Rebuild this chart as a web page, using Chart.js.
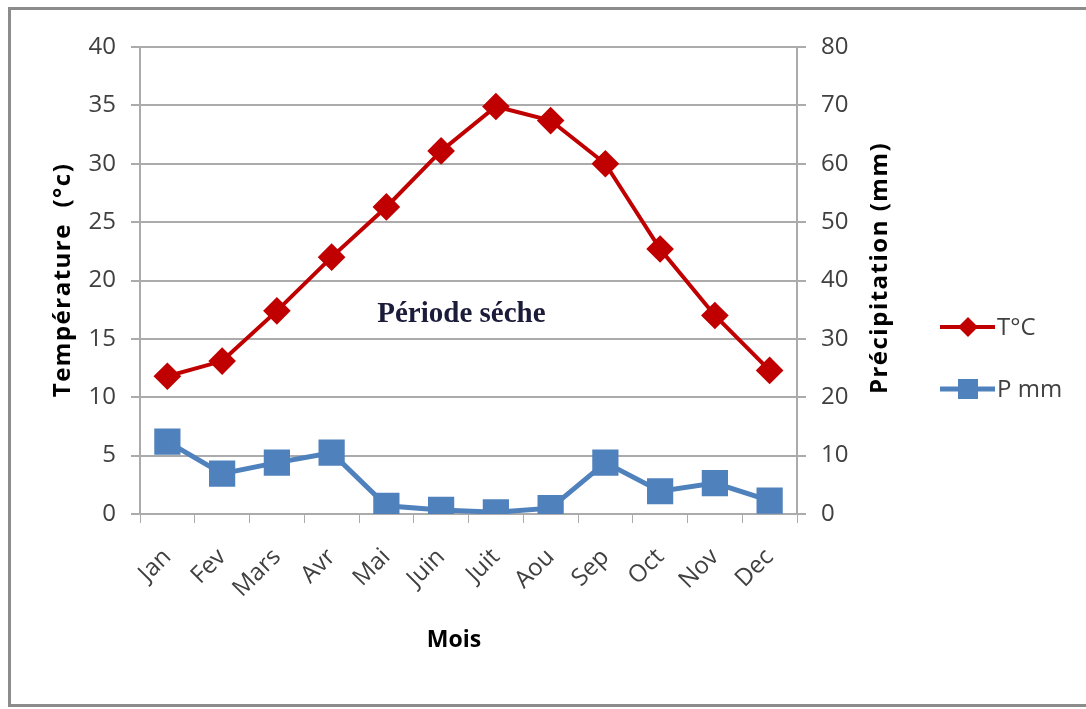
<!DOCTYPE html>
<html>
<head>
<meta charset="utf-8">
<script src="https://cdn.jsdelivr.net/npm/chart.js@4.4.1/dist/chart.umd.min.js"></script>
<style>
  html, body { margin: 0; padding: 0; background: #fff; }
  #wrap { width: 1086px; height: 709px; position: relative; }
</style>
</head>
<body>
<div id="wrap"><canvas id="myChart" width="1086" height="709"></canvas></div>
<script>
// data
const months = ['Jan', 'Fev', 'Mars', 'Avr', 'Mai', 'Juin', 'Juit', 'Aou', 'Sep', 'Oct', 'Nov', 'Dec']
const temperature = [11.8, 13.1, 17.4, 22.0, 26.3, 31.1, 34.9, 33.7, 30.0, 22.7, 17.0, 12.3]
const precipitation = [12.4, 6.9, 8.8, 10.5, 1.4, 0.7, 0.3, 1.0, 8.8, 3.9, 5.3, 2.3]
const seriesNames = ['T°C', 'P mm']
const tempTicks = { min: 0, max: 40, step: 5 }
const rainTicks = { min: 0, max: 80, step: 10 }

const RED = '#C00000'
const BLUE = '#4F81BD'
const GRID = '#ABABAB'
const TICK_TXT = '#404040'
const FONT = '"Open Sans", "DejaVu Sans", sans-serif'

// plot box in the picture
const box = { left: 140, right: 797, top: 47, bottom: 514 }

const extras = {
    id: 'extras',
    afterDraw(chart) {
        const ctx = chart.ctx
        const x = chart.scales.x
        const y = chart.scales.y
        ctx.save()

        // frame round the picture
        ctx.strokeStyle = '#8c8c8c'
        ctx.lineWidth = 3
        ctx.beginPath()
        ctx.moveTo(1090, 8.5)
        ctx.lineTo(9.5, 8.5)
        ctx.lineTo(9.5, 705.5)
        ctx.lineTo(1090, 705.5)
        ctx.stroke()

        // axis titles
        ctx.fillStyle = '#000'
        ctx.textAlign = 'center'
        ctx.textBaseline = 'middle'
        ctx.font = 'bold 24px ' + FONT
        ctx.letterSpacing = '1.5px'
        ctx.save()
        ctx.translate(63, 280)
        ctx.rotate(-Math.PI / 2)
        ctx.fillText('Température  (°c)', 0, 0)
        ctx.restore()
        ctx.save()
        ctx.translate(880, 268)
        ctx.rotate(-Math.PI / 2)
        ctx.fillText('Précipitation (mm)', 0, 0)
        ctx.restore()
        ctx.letterSpacing = '0px'
        ctx.font = 'bold 23px ' + FONT
        ctx.fillText('Mois', 454, 640)

        // annotation, placed through the scales
        ctx.font = 'bold 29px "Liberation Serif", "Times New Roman", serif'
        ctx.fillStyle = '#1b1b3a'
        const ax = x.getPixelForValue(5) * 0.63 + x.getPixelForValue(6) * 0.37
        ctx.fillText('Période séche', ax, y.getPixelForValue(17.1))

        // legend (line + marker like the office chart)
        const items = chart.data.datasets
        items.forEach((ds, i) => {
            const ly = 327 + i * 62
            ctx.strokeStyle = ds.borderColor
            ctx.lineWidth = ds.borderWidth
            ctx.beginPath()
            ctx.moveTo(940, ly)
            ctx.lineTo(995, ly)
            ctx.stroke()
            ctx.fillStyle = ds.backgroundColor
            ctx.beginPath()
            if (ds.pointStyle === 'rectRot') {
                const r = 10
                ctx.moveTo(968, ly - r); ctx.lineTo(968 + r, ly); ctx.lineTo(968, ly + r); ctx.lineTo(968 - r, ly)
                ctx.closePath()
            } else {
                ctx.rect(968 - 10, ly - 10, 20, 20)
            }
            ctx.fill()
            ctx.fillStyle = TICK_TXT
            ctx.font = '24px ' + FONT
            ctx.textAlign = 'left'
            ctx.fillText(ds.label, 997, ly + 1)
        })
        ctx.restore()
    }
}

const ctx = document.getElementById('myChart').getContext('2d')
const chart = new Chart(ctx, {
    type: 'line',
    data: {
        labels: months,
        datasets: [
            {
                label: seriesNames[0],
                data: temperature,
                yAxisID: 'y',
                borderColor: RED,
                backgroundColor: RED,
                borderWidth: 4,
                pointStyle: 'rectRot',
                pointRadius: 11,
                pointHoverRadius: 11,
                tension: 0
            },
            {
                label: seriesNames[1],
                data: precipitation,
                yAxisID: 'y1',
                borderColor: BLUE,
                backgroundColor: BLUE,
                borderWidth: 5,
                pointStyle: 'rect',
                pointRadius: 15,
                pointHoverRadius: 15,
                tension: 0
            }
        ]
    },
    options: {
        responsive: false,
        animation: false,
        layout: { padding: { top: box.top, left: 0, right: 0, bottom: 0 } },
        plugins: {
            legend: { display: false },
            tooltip: { enabled: false }
        },
        scales: {
            x: {
                offset: true,
                grid: { display: true, offset: true, drawOnChartArea: false, color: GRID, tickLength: 9, lineWidth: 1 },
                border: { color: GRID, width: 2 },
                ticks: { color: TICK_TXT, font: { family: FONT, size: 24 }, minRotation: 45, maxRotation: 45, padding: 20 },
                afterFit: s => { s.height = 709 - box.bottom }
            },
            y: {
                position: 'left',
                min: tempTicks.min,
                max: tempTicks.max,
                ticks: { stepSize: tempTicks.step, color: TICK_TXT, font: { family: FONT, size: 24 }, padding: 15 },
                grid: { color: GRID, lineWidth: 2, tickLength: 9 },
                border: { color: GRID, width: 2 },
                afterFit: s => { s.width = box.left }
            },
            y1: {
                position: 'right',
                min: rainTicks.min,
                max: rainTicks.max,
                ticks: { stepSize: rainTicks.step, color: TICK_TXT, font: { family: FONT, size: 24 }, padding: 15 },
                grid: { drawOnChartArea: false, color: GRID, lineWidth: 2, tickLength: 9 },
                border: { color: GRID, width: 2 },
                afterFit: s => { s.width = 1086 - box.right }
            }
        }
    },
    plugins: [extras]
})
</script>
</body>
</html>
